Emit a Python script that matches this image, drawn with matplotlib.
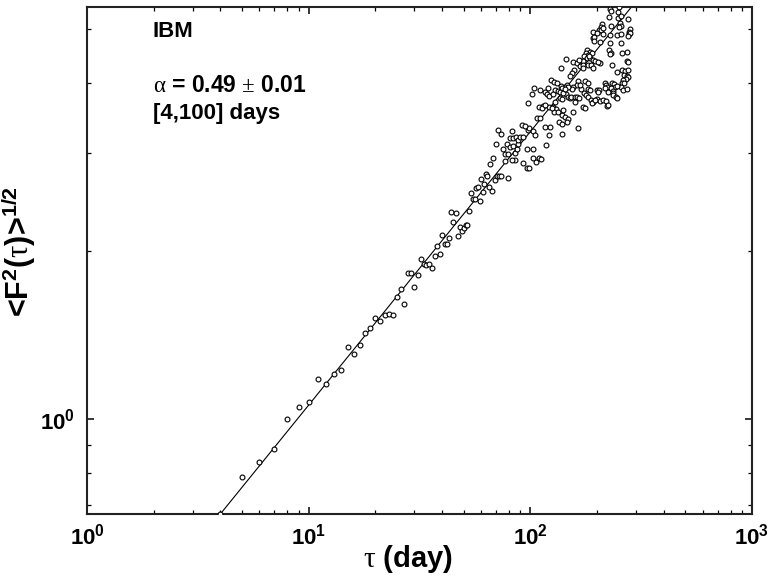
import numpy as np
import matplotlib
matplotlib.use("Agg")
import matplotlib.pyplot as plt
from matplotlib.ticker import LogLocator, NullFormatter, FuncFormatter

plt.rcParams['font.family'] = ['Liberation Sans', 'DejaVu Sans']
plt.rcParams['mathtext.fontset'] = 'custom'
plt.rcParams['mathtext.bf'] = 'Liberation Sans:bold'
plt.rcParams['mathtext.rm'] = 'Liberation Serif'
plt.rcParams['mathtext.it'] = 'Liberation Sans:italic'
plt.rcParams['mathtext.sf'] = 'Liberation Sans'

# ---- data: short lags (one point per day) ----
tau_low = [4, 5, 6, 7, 8, 9, 10, 11, 12, 13, 14, 15, 16, 17, 18, 19, 20, 21, 22, 23,
           24, 25, 26, 27, 28, 29, 30, 31, 32, 33, 34, 35, 36, 37, 38, 39, 40, 41, 42, 43,
           44, 45, 46, 47, 48, 49, 50, 51, 52, 53, 54, 55, 56, 57, 58, 59, 60, 61, 62, 63,
           64, 65, 66, 67, 68, 69, 70, 71]
F_low = [0.676, 0.788, 0.838, 0.884, 1.000, 1.052, 1.073, 1.181, 1.157, 1.206,
         1.223, 1.346, 1.308, 1.359, 1.426, 1.454, 1.519, 1.500, 1.538, 1.542,
         1.538, 1.657, 1.708, 1.607, 1.829, 1.829, 1.726, 1.811, 1.932, 1.895,
         1.890, 1.893, 1.866, 1.962, 2.045, 1.978, 2.140, 2.062, 2.059, 2.113,
         2.346, 2.254, 2.343, 2.126, 2.211, 2.175, 2.197, 2.227, 2.230, 2.359,
         2.541, 2.476, 2.479, 2.591, 2.608, 2.459, 2.692, 2.549, 2.641, 2.752,
         2.725, 2.602, 2.861, 2.559, 2.933, 2.681, 3.114, 2.729]

# ---- data: intermediate lags ----
tau_mid = [71.4, 72.0, 73.5, 73.7, 75.5, 76.6, 77.1, 78.7, 79.5, 80.9, 85.2, 86.7, 85.0,
           88.2, 92.3, 96.3, 96.6, 98.9, 103.1, 102.4, 106.0, 109.7, 111.7, 117.2, 79.5,
           82.3, 83.5]
F_mid = [3.300, 2.726, 3.238, 2.729, 3.047, 2.904, 2.988, 3.114, 2.707, 3.068, 3.000, 3.043,
         2.912, 3.114, 2.873, 3.043, 2.814, 2.814, 3.050, 2.940, 2.892, 2.932, 2.928, 3.097,
         2.984, 2.912, 3.079]

# ---- data: long lags (dense region) ----
tau_high = [228.6, 230.3, 251.0, 249.2, 227.0, 247.6, 274.8, 210.3, 208.1, 253.6,
            256.2, 251.8, 231.7, 203.9, 208.1, 282.3, 279.4, 277.6, 281.4, 192.2,
            212.5, 228.6, 246.6, 255.4, 274.8, 191.0, 194.2, 193.6, 206.0, 255.4,
            228.6, 180.6, 185.7, 178.1, 182.4, 189.0, 175.1, 179.5, 167.4, 172.2,
            156.2, 162.8, 165.2, 185.7, 192.2, 195.6, 144.8, 206.0, 227.0, 231.7,
            273.6, 258.1, 272.8, 232.7, 137.0, 157.3, 153.6, 167.4, 172.2, 182.4,
            187.1, 151.4, 245.1, 259.7, 267.1, 274.8, 264.4, 271.9, 276.5, 269.9,
            262.4, 258.1, 265.2, 176.9, 181.9, 164.0, 161.8, 156.2, 153.6, 145.8,
            143.3, 148.3, 137.4, 139.3, 123.9, 128.2, 131.4, 119.7, 116.7, 129.1,
            133.6, 136.4, 169.1, 181.3, 186.3, 199.1, 204.5, 217.0, 219.2, 222.2,
            217.7, 232.7, 239.1, 240.8, 231.0, 235.1, 256.2, 262.4, 271.9, 103.8,
            110.5, 118.5, 121.0, 101.4, 126.1, 144.8, 147.8, 150.4, 136.0, 138.4,
            152.5, 158.4, 161.8, 165.7, 174.4, 178.1, 182.4, 187.1, 192.2, 200.3,
            206.0, 213.2, 219.2, 222.2, 235.1, 236.6, 242.4, 246.6, 114.4, 109.7,
            112.8, 97.8, 121.0, 126.9, 130.5, 127.8, 133.2, 139.3, 143.3, 148.3,
            146.7, 107.1, 110.5, 116.7, 122.6, 135.0, 139.3, 163.4, 121.0, 138.4,
            97.2, 98.9, 102.4, 104.9, 91.9, 82.6, 80.9, 83.7, 85.8, 87.9,
            89.8, 92.3, 173.2, 156.2, 176.3, 158.9, 140.7, 199.1, 213.2, 256.2,
            184.4, 202.4, 173.2, 191.0, 228.6, 276.5, 202.4, 224.5, 246.6, 189.0,
            195.6, 224.5, 129.1, 116.4, 124.8, 140.7, 167.4, 143.3, 94.8]
F_high = [5.424, 5.379, 5.482, 5.364, 5.260, 5.238, 5.204, 5.098, 5.048, 5.119,
          5.069, 5.036, 5.057, 4.980, 4.970, 5.007, 4.945, 4.892, 4.913, 4.933,
          4.892, 4.884, 4.884, 4.892, 4.859, 4.812, 4.843, 4.764, 4.739, 4.725,
          4.725, 4.585, 4.553, 4.523, 4.491, 4.523, 4.473, 4.442, 4.382, 4.382,
          4.369, 4.341, 4.400, 4.442, 4.400, 4.382, 4.413, 4.351, 4.585, 4.534,
          4.553, 4.523, 4.387, 4.310, 4.252, 4.222, 4.175, 4.292, 4.310, 4.310,
          4.310, 4.118, 4.192, 4.222, 4.205, 4.222, 4.135, 4.118, 4.096, 4.063,
          4.051, 4.006, 4.006, 4.034, 4.006, 4.034, 3.968, 3.940, 3.898, 3.968,
          3.940, 3.931, 3.952, 3.914, 4.051, 4.023, 3.996, 3.914, 3.860, 3.887,
          3.871, 3.860, 3.898, 3.898, 3.887, 3.887, 3.887, 4.006, 3.968, 3.931,
          3.914, 3.996, 3.984, 3.931, 3.914, 3.871, 3.931, 3.887, 3.898, 3.924,
          3.887, 3.819, 3.796, 3.819, 3.819, 3.819, 3.781, 3.765, 3.756, 3.745,
          3.781, 3.772, 3.781, 3.756, 3.844, 3.812, 3.781, 3.730, 3.704, 3.741,
          3.719, 3.730, 3.715, 3.638, 3.834, 3.808, 3.781, 3.765, 3.638, 3.619,
          3.604, 3.680, 3.619, 3.628, 3.594, 3.545, 3.554, 3.506, 3.481, 3.448,
          3.410, 3.467, 3.458, 3.341, 3.333, 3.410, 3.378, 3.327, 3.228, 3.241,
          3.296, 3.319, 3.286, 3.228, 3.364, 3.282, 3.184, 3.192, 3.198, 3.162,
          3.205, 3.205, 3.628, 3.554, 3.613, 3.704, 3.579, 4.913, 5.015, 5.275,
          4.473, 4.359, 4.252, 4.252, 4.510, 4.369, 3.860, 3.860, 3.952, 3.680,
          3.730, 3.653, 3.704, 3.653, 3.604, 3.834, 3.968, 3.898, 3.351]

# ---- power-law fit over [4,100] days, alpha = 0.49 (end points of the fit line) ----
fit_tau = [4.0, 300.0]
fit_F = [0.676, 5.607]

tau = np.array(tau_low + tau_mid + tau_high, dtype=float)
F = np.array(F_low + F_mid + F_high, dtype=float)

fig = plt.figure(figsize=(7.69, 5.77), dpi=100)
ax = fig.add_axes([87 / 769, 1 - 514 / 577, 665 / 769, 507 / 577])

ax.plot(fit_tau, fit_F, color='black', lw=0.8, zorder=2)
ax.plot(tau, F, linestyle='none', marker='o', ms=3.5, mfc='white', mec='black',
        mew=0.8, zorder=3)

ax.set_xscale('log')
ax.set_yscale('log')
ax.set_xlim(1, 1000)
ax.set_ylim(0.6757, 5.475)

ax.xaxis.set_major_locator(LogLocator(base=10, numticks=10))
ax.xaxis.set_minor_locator(LogLocator(base=10, subs=np.arange(2, 10), numticks=20))
ax.yaxis.set_major_locator(LogLocator(base=10, numticks=10))
ax.yaxis.set_minor_locator(LogLocator(base=10, subs=np.arange(2, 10), numticks=20))

fmt = FuncFormatter(lambda v, p: r'$\mathbf{10^{%d}}$' % int(round(np.log10(v))))
ax.xaxis.set_major_formatter(fmt)
ax.yaxis.set_major_formatter(fmt)
ax.xaxis.set_minor_formatter(NullFormatter())
ax.yaxis.set_minor_formatter(NullFormatter())

ax.tick_params(which='both', direction='in', top=True, right=True, colors='black')
ax.tick_params(which='major', length=5, width=1.1, labelsize=16)
ax.tick_params(which='minor', length=2.7, width=0.9)
ax.tick_params(axis='x', which='major', pad=7)
ax.tick_params(axis='y', which='major', pad=9)
for s in ax.spines.values():
    s.set_linewidth(1.5)
    s.set_color('#222222')

ax.set_xlabel(r'$\mathrm{\tau}$ (day)', fontsize=21, fontweight='bold')
ax.xaxis.set_label_coords((408 - 87) / 665, -0.057)
ax.set_ylabel(r'<F$^{\mathbf{2}}$($\mathrm{\tau}$)>$^{\mathbf{1/2}}$', fontsize=22,
              fontweight='bold')
ax.yaxis.set_label_coords((38 - 87) / 665, (514 - 252) / 507)

tx = (153 - 87) / 665
ax.text(tx, (514 - 37) / 507, 'IBM', transform=ax.transAxes, fontsize=16,
        fontweight='bold', va='baseline', ha='left')
ax.text(tx, (514 - 92) / 507, r'$\mathrm{\alpha}$ = 0.49 $\mathrm{\pm}$ 0.01',
        transform=ax.transAxes, fontsize=16.5, fontweight='bold', va='baseline', ha='left')
ax.text(tx, (514 - 118.5) / 507, '[4,100] days', transform=ax.transAxes, fontsize=16,
        fontweight='bold', va='baseline', ha='left')

fig.savefig('out.png', dpi=100, facecolor='white')
